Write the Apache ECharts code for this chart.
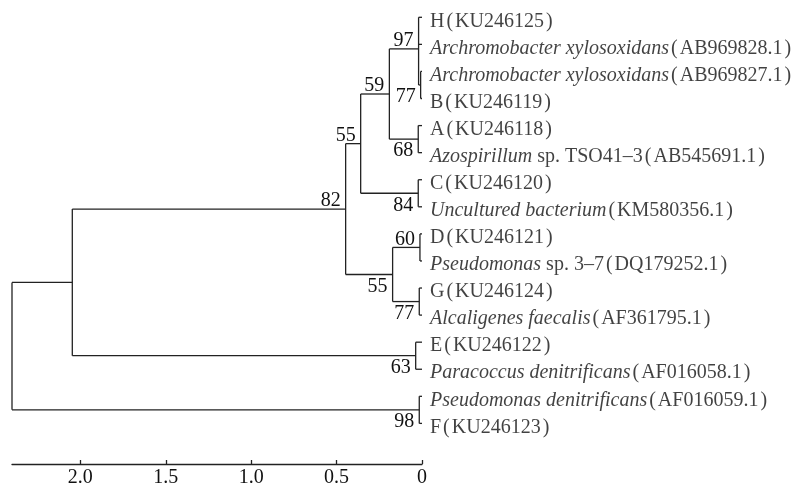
<!DOCTYPE html>
<html><head><meta charset="utf-8">
<script src="https://cdn.jsdelivr.net/npm/echarts@6/dist/echarts.min.js"></script>
<style>html,body{margin:0;padding:0;background:#fff}#c{width:799px;height:487px}</style>
</head><body><div id="c"></div>
<script>
// ---- data ----
const leafItalic = ['', 'Archromobacter xylosoxidans', 'Archromobacter xylosoxidans', '', '', 'Azospirillum', '', 'Uncultured bacterium', '', 'Pseudomonas', '', 'Alcaligenes faecalis', '', 'Paracoccus denitrificans', 'Pseudomonas denitrificans', ''];
const leafRoman = ['H', '', '', 'B', 'A', ' sp. TSO41\u20133', 'C', '', 'D', ' sp. 3\u20137', 'G', '', 'E', '', '', 'F'];
const leafAccession = ['KU246125', 'AB969828.1', 'AB969827.1', 'KU246119', 'KU246118', 'AB545691.1', 'KU246120', 'KM580356.1', 'KU246121', 'DQ179252.1', 'KU246124', 'AF361795.1', 'KU246122', 'AF016058.1', 'AF016059.1', 'KU246123'];
const leafDist = [0, 0, 0, 0, 0, 0, 0, 0, 0, 0, 0, 0, 0, 0, 0, 0];

const nodeIds     = ['n97', 'n77a', 'n59', 'n68', 'n84', 'n55a', 'n60', 'n77b', 'n55b', 'n82', 'n63', 'n72', 'n98', 'root'];
const nodeDist    = [0.020, 0.008, 0.191, 0.022, 0.022, 0.359, 0.012, 0.016, 0.172, 0.447, 0.037, 2.047, 0.016, 2.400];
const nodeKids    = [[0, 1, 'n77a'], [2, 3], ['n97', 'n68'], [4, 5], [6, 7], ['n59', 'n84'], [8, 9], [10, 11], ['n60', 'n77b'], ['n55a', 'n55b'], [12, 13], ['n82', 'n63'], [14, 15], ['n72', 'n98']];
const nodeSupport = [97, 77, 59, 68, 84, 55, 60, 77, 55, 82, 63, null, 98, null];

const axisTicks = [0, 0.5, 1.0, 1.5, 2.0];

// ---- derive tree geometry (in data units) ----
const idx = {}; nodeIds.forEach((id, i) => idx[id] = i);
const nodeY = new Array(nodeIds.length);
function yOf(k) {
  if (typeof k === 'number') return k;
  const i = idx[k];
  if (nodeY[i] === undefined) {
    const ys = nodeKids[i].map(yOf);
    nodeY[i] = ys.reduce((a, b) => a + b, 0) / ys.length;
  }
  return nodeY[i];
}
function dOf(k) { return typeof k === 'number' ? leafDist[k] : nodeDist[idx[k]]; }
nodeIds.forEach(id => yOf(id));

const segments = [];
const supportLabels = [];
nodeIds.forEach((id, i) => {
  const ys = nodeKids[i].map(yOf);
  segments.push([nodeDist[i], Math.min(...ys), nodeDist[i], Math.max(...ys)]);
  nodeKids[i].forEach((k, j) => {
    segments.push([nodeDist[i], yOf(k), dOf(k), yOf(k)]);
    if (typeof k === 'string' && nodeSupport[idx[k]] != null) {
      supportLabels.push([dOf(k), yOf(k), nodeSupport[idx[k]], j === 0 ? 1 : 0]);
    }
  });
});

const FONT = '"Liberation Serif", "Times New Roman", serif';
const FS = 20;
const chart = echarts.init(document.getElementById('c'), null, {renderer: 'canvas'});
chart.setOption({
  animation: false,
  backgroundColor: '#fff',
  grid: {left: 12, right: 377, top: 17.3, bottom: 23, outerBoundsMode: 'none'},
  xAxis: {
    type: 'value', min: 0, max: 2.4, inverse: true, position: 'bottom',
    axisLine: {show: true, onZero: false, lineStyle: {color: '#222', width: 1.3}},
    axisTick: {show: true, inside: true, length: 4, customValues: axisTicks, lineStyle: {color: '#222', width: 1.3}},
    axisLabel: {show: true, customValues: axisTicks, margin: 4, fontFamily: FONT, fontSize: FS, color: '#111',
      formatter: v => v === 0 ? '0' : v.toFixed(1)},
    splitLine: {show: false}
  },
  yAxis: {type: 'value', min: 0, max: 16.5, inverse: true, show: false},
  series: [
    {
      type: 'custom', clip: false, silent: true,
      data: segments,
      encode: {x: [0, 2], y: [1, 3]},
      renderItem: (params, api) => {
        const a = api.coord([api.value(0), api.value(1)]);
        const b = api.coord([api.value(2), api.value(3)]);
        return {type: 'line', shape: {x1: a[0], y1: a[1], x2: b[0], y2: b[1]},
          style: {stroke: '#222', lineWidth: 1.3}};
      }
    },
    {
      type: 'custom', clip: false, silent: true,
      data: supportLabels,
      encode: {x: 0, y: 1},
      renderItem: (params, api) => {
        const p = api.coord([api.value(0), api.value(1)]);
        const above = api.value(3) === 1;
        return {type: 'text', style: {
          text: String(api.value(2)), x: p[0] - 5, y: p[1] + (above ? 2 : 2),
          align: 'right', verticalAlign: above ? 'bottom' : 'top',
          font: FS + 'px ' + FONT, fill: '#111'}};
      }
    },
    {
      type: 'scatter', silent: true, symbolSize: 0,
      data: leafDist.map((d, i) => [d, i]),
      label: {
        show: true, position: 'right', distance: 8, offset: [0, 4],
        formatter: p => {
          const i = p.dataIndex;
          let s = '';
          if (leafItalic[i]) s += '{i|' + leafItalic[i] + '}';
          if (leafRoman[i]) s += '{r|' + leafRoman[i] + '}';
          s += '{p|(}{r|' + leafAccession[i] + '}{p|)}';
          return s;
        },
        rich: {
          i: {fontFamily: FONT, fontStyle: 'italic', fontSize: FS, color: '#111'},
          r: {fontFamily: FONT, fontSize: FS, color: '#111'},
          p: {fontFamily: FONT, fontSize: FS, color: '#111', padding: [0, 2, 0, 2]}
        }
      }
    }
  ]
});
</script></body></html>
